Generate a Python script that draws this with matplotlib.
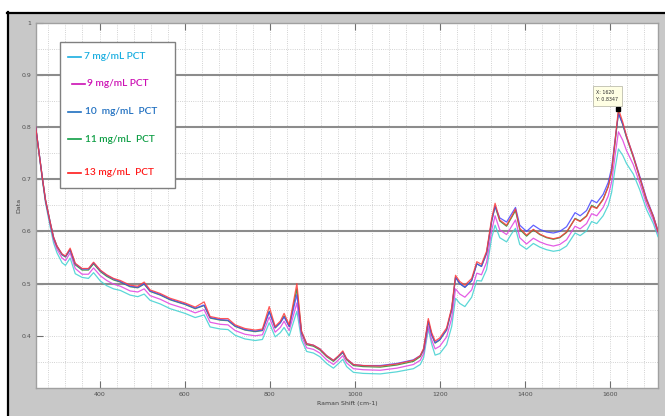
import matplotlib.pyplot as plt
from matplotlib.patches import Rectangle
from matplotlib.lines import Line2D
from matplotlib.ticker import MultipleLocator

# Raman shift positions (cm-1)
shift = [250, 258, 266, 273, 284, 292, 300, 312, 320, 331, 343, 359, 374, 386, 402,
         417, 433, 449, 472, 490, 505, 519, 543, 566, 601, 625, 646, 660, 684, 702,
         719, 742, 766, 783, 799, 813, 825, 834, 846, 864, 875, 887, 903, 918, 934,
         950, 962, 972, 981, 997, 1020, 1060, 1099, 1138, 1154, 1162, 1173, 1181, 1189,
         1200, 1216, 1228, 1237, 1247, 1259, 1275, 1287, 1298, 1310, 1322, 1330, 1341,
         1357, 1369, 1378, 1388, 1404, 1420, 1435, 1451, 1467, 1482, 1498, 1518, 1530,
         1545, 1557, 1569, 1584, 1596, 1604, 1612, 1620, 1630, 1639, 1655, 1670, 1686,
         1702, 1713]

pct7 = [.798, .748, .697, .655, .609, .578, .559, .540, .535, .549, .519, .512, .510, .521, .505,
        .496, .490, .487, .478, .475, .480, .468, .461, .452, .443, .435, .440, .417, .413, .412,
        .401, .394, .391, .393, .425, .398, .406, .416, .400, .447, .392, .370, .367, .360, .347,
        .338, .347, .355, .341, .330, .328, .327, .331, .337, .345, .358, .413, .384, .363,
        .366, .383, .418, .472, .462, .456, .474, .506, .505, .527, .588, .612, .588,
        .580, .596, .606, .575, .566, .577, .570, .565, .562, .564, .572, .597, .592,
        .601, .619, .615, .630, .650, .675, .720, .758, .746, .730, .710, .680, .642,
        .615, .590]

pct9 = [.800, .749, .699, .658, .614, .584, .566, .549, .544, .559, .529, .518, .518, .530, .515,
        .506, .499, .495, .486, .484, .490, .477, .470, .461, .452, .444, .450, .426, .422, .421,
        .410, .403, .400, .402, .436, .407, .416, .428, .410, .463, .399, .377, .374, .367, .354,
        .345, .354, .362, .348, .337, .335, .334, .338, .345, .353, .366, .418, .392, .375,
        .380, .398, .434, .490, .480, .474, .488, .520, .517, .541, .602, .630, .603,
        .594, .610, .622, .588, .576, .587, .580, .575, .572, .575, .584, .610, .605,
        .615, .634, .630, .646, .668, .695, .745, .791, .775, .755, .728, .693, .652,
        .622, .596]

pct10 = [.800, .751, .701, .661, .618, .589, .572, .556, .552, .565, .538, .528, .528, .540, .525,
         .516, .509, .504, .495, .493, .500, .486, .479, .470, .461, .453, .459, .435, .431, .430,
         .419, .412, .409, .411, .446, .416, .425, .436, .418, .479, .407, .385, .382, .375, .362,
         .353, .361, .369, .356, .345, .343, .343, .347, .354, .362, .374, .428, .402, .387,
         .393, .412, .451, .512, .500, .493, .506, .538, .533, .559, .620, .648, .626,
         .618, .634, .646, .612, .600, .612, .604, .599, .597, .600, .609, .636, .630,
         .640, .660, .655, .671, .694, .722, .775, .826, .806, .782, .745, .706, .663,
         .630, .601]

pct11 = [.800, .750, .700, .660, .617, .588, .571, .555, .551, .565, .536, .526, .526, .538, .523,
         .514, .507, .503, .494, .492, .499, .485, .478, .469, .460, .452, .458, .434, .430, .429,
         .418, .411, .408, .410, .447, .415, .425, .438, .418, .490, .406, .383, .380, .373, .360,
         .351, .360, .368, .354, .343, .341, .340, .344, .351, .360, .373, .428, .402, .386,
         .392, .411, .450, .512, .500, .493, .506, .538, .533, .558, .620, .648, .620,
         .610, .627, .640, .604, .591, .603, .594, .588, .585, .588, .598, .625, .620,
         .630, .650, .645, .662, .686, .715, .770, .828, .805, .780, .742, .703, .660,
         .628, .600]

pct13 = [.800, .750, .701, .661, .618, .589, .572, .557, .553, .568, .539, .529, .529, .541, .526,
         .517, .510, .506, .497, .495, .503, .488, .481, .472, .463, .455, .465, .437, .433, .433,
         .421, .414, .411, .413, .456, .418, .428, .443, .421, .500, .409, .385, .382, .375, .362,
         .353, .362, .371, .356, .345, .343, .342, .346, .353, .362, .376, .433, .406, .390,
         .396, .415, .454, .516, .504, .497, .510, .542, .537, .562, .625, .654, .622,
         .612, .629, .643, .606, .593, .604, .595, .589, .586, .589, .599, .624, .619,
         .629, .648, .644, .661, .686, .716, .773, .8347, .810, .783, .744, .704, .661,
         .629, .600]

series = [pct7, pct9, pct11, pct10, pct13]
line_colors = ['#3fd0d0', '#e040e0', '#2e8b2e', '#4646ff', '#ff3a3a']

legend_labels = ["7 mg/mL PCT", "9 mg/mL PCT", "10  mg/mL  PCT", "11 mg/mL  PCT", "13 mg/mL  PCT"]
legend_colors = ['#1aaee0', '#cc10b4', '#1f6fc0', '#0f9e45', '#ff1a1a']

x_ticks = [400, 600, 800, 1000, 1200, 1400, 1600]
y_ticks = [0.4, 0.5, 0.6, 0.7, 0.8, 0.9, 1.0]
y_tick_labels = ['0.4', '0.5', '0.6', '0.7', '0.8', '0.9', '1']
heavy_levels = [0.5, 0.6, 0.7, 0.8, 0.9]

tip_x, tip_y = 1620, 0.8347

W, H = 665, 416
fig = plt.figure(figsize=(W / 100, H / 100), dpi=100)
fig.patch.set_facecolor('white')


def fx(px):
    return px / W


def fy(py):
    return 1 - py / H


# gray window background with black border (screenshot look)
fig.patches.append(Rectangle((fx(8), 0), 1 - fx(8), fy(12), transform=fig.transFigure,
                             facecolor='#c8c8c8', edgecolor='none', zorder=-10))
fig.lines.append(Line2D([fx(7.5), fx(7.5)], [0, fy(12)], transform=fig.transFigure,
                        color='black', lw=1.6, zorder=-9))
fig.lines.append(Line2D([fx(7), 1], [fy(12.5), fy(12.5)], transform=fig.transFigure,
                        color='black', lw=1.6, zorder=-9))

ax = fig.add_axes([fx(35.7), fy(388), (658 - 35.7) / W, (388 - 22.7) / H])
ax.set_facecolor('white')

for v in heavy_levels:
    ax.axhline(v, color='#8c8c8c', lw=1.5, zorder=1.5)

for vals, c in zip(series, line_colors):
    ax.plot(shift, vals, color=c, lw=0.9, alpha=0.85, zorder=3)

ax.set_xlim(250, 1713)
ax.set_ylim(0.3, 1.0)
ax.set_xticks(x_ticks)
ax.set_yticks(y_ticks)
ax.set_yticklabels(y_tick_labels)
ax.xaxis.set_minor_locator(MultipleLocator(40))
ax.yaxis.set_minor_locator(MultipleLocator(0.05))
ax.grid(which='both', linestyle=':', color='#c4c4c4', lw=0.6, zorder=1)
ax.set_axisbelow(True)
ax.tick_params(which='major', direction='in', length=5, width=0.8, top=True,
               colors='#707070', labelcolor='#505050', labelsize=4.5, pad=3)
ax.tick_params(which='minor', length=0)
for s in ax.spines.values():
    s.set_color('#a0a0a0')
    s.set_linewidth(1.0)

ax.set_xlabel('Raman Shift (cm-1)', fontsize=4.5, color='#404040', labelpad=3)
ax.set_ylabel('Data', fontsize=4.5, color='#404040', labelpad=0)

# data tip
ax.plot([tip_x], [tip_y], marker='s', ms=3, color='black', zorder=5)
ax.annotate(f'X: {tip_x}\nY: {tip_y}', (tip_x, tip_y), xytext=(-22, 7),
            textcoords='offset pixels', fontsize=3.4, color='#303030', va='bottom',
            ha='left', zorder=6, linespacing=1.6,
            bbox=dict(boxstyle='square,pad=0.8', fc='#ffffe4', ec='#b0b0a0', lw=0.5))

# legend box
fig.patches.append(Rectangle((fx(60), fy(188)), fx(175) - fx(60), fy(42) - fy(188),
                             transform=fig.transFigure, facecolor='white',
                             edgecolor='#808080', lw=1.0, zorder=5))
leg_y = [56.7, 84, 111.7, 139, 172.7]
line_x0 = [68, 72, 68, 68, 68]
text_x = [84, 87, 85, 85, 84]
for lab, c, py, lx, tx in zip(legend_labels, legend_colors, leg_y, line_x0, text_x):
    fig.lines.append(Line2D([fx(lx), fx(lx + 13)], [fy(py), fy(py)], transform=fig.transFigure,
                            color=c, lw=1.2, zorder=6))
    fig.text(fx(tx), fy(py), lab, color=c, fontsize=7.3, family='Lato', weight='semibold',
             va='center', ha='left', zorder=6)

fig.savefig('out.png', dpi=100)
